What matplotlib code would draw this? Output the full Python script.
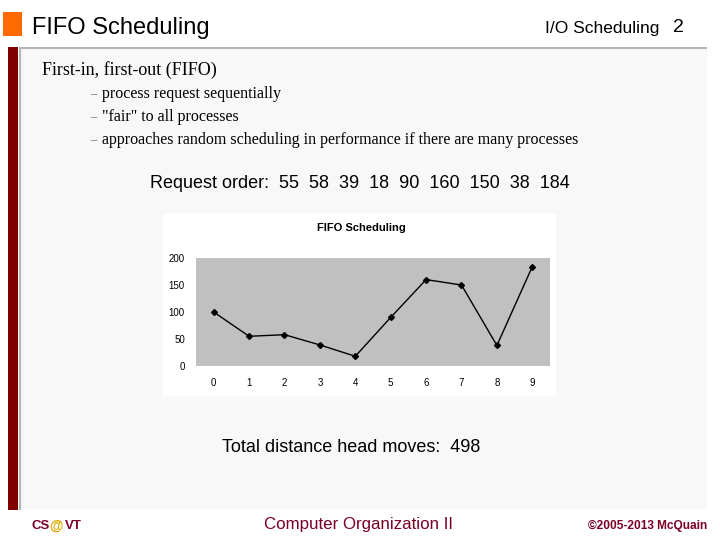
import matplotlib
matplotlib.use("Agg")
import matplotlib.pyplot as plt
from matplotlib.patches import Rectangle

# data
positions = [0, 1, 2, 3, 4, 5, 6, 7, 8, 9]
cylinders = [100, 55, 58, 39, 18, 90, 160, 150, 38, 184]
y_ticks = [0, 50, 100, 150, 200]
bullets = ["process request sequentially",
           '"fair" to all processes',
           "approaches random scheduling in performance if there are many processes"]
request_text = "Request order:  55  58  39  18  90  160  150  38  184"
total_text = "Total distance head moves:  498"

plt.rcParams['font.family'] = ['Liberation Sans', 'DejaVu Sans']

W, H = 720, 540
fig = plt.figure(figsize=(7.2, 5.4), dpi=100)
fig.patch.set_facecolor("white")


def fx(x):
    return x / W


def fy(y):
    return 1 - y / H


def box(x0, y0, x1, y1, **kw):
    fig.patches.append(Rectangle((fx(x0), fy(y1)), fx(x1 - x0), (y1 - y0) / H,
                                 transform=fig.transFigure, figure=fig, zorder=-5, **kw))


sans = "Liberation Sans"
serif = "Liberation Serif"
maroon = "#7a0026"

# slide frame
box(20, 48, 707, 510, facecolor="#f8f8f8", edgecolor="none")
box(20, 47, 707, 49, facecolor="#b4b4b4", edgecolor="none")
box(19, 47, 21, 510, facecolor="#b4b4b4", edgecolor="none")
box(8, 47, 18, 510, facecolor="#800000", edgecolor="none")
box(3, 12, 22, 36, facecolor="#ff6a00", edgecolor="none")

fig.text(fx(32), fy(28), "FIFO Scheduling", family=sans, fontsize=17, va="center", ha="left")
fig.text(fx(659), fy(28), "I/O Scheduling", family=sans, fontsize=12.5, va="center", ha="right")
fig.text(fx(684), fy(28), "2", family=sans, fontsize=14, va="center", ha="right")

fig.text(fx(42), fy(70), "First-in, first-out (FIFO)", family=serif, fontsize=13, va="center")
for i, b in enumerate(bullets):
    yy = 94 + i * 23
    fig.text(fx(90), fy(yy), "\u2013", family=serif, fontsize=9, va="center", color="#666666")
    fig.text(fx(102), fy(yy), b, family=serif, fontsize=11.5, va="center")

fig.text(fx(150), fy(183), request_text, family=sans, fontsize=13, va="center")
fig.text(fx(222), fy(447), total_text, family=sans, fontsize=13, va="center")

# embedded chart
box(163, 214, 556, 396, facecolor="white", edgecolor="none")
fig.text(fx(361), fy(228), "FIFO Scheduling", family=sans, fontsize=8, weight="bold",
         ha="center", va="center")

ax = fig.add_axes([fx(196), fy(366), fx(550 - 196), (366 - 258) / H])
ax.set_facecolor("#c0c0c0")
ax.plot(positions, cylinders, color="black", linewidth=1, marker="D", markersize=3)
ax.set_xlim(-0.5, 9.5)
ax.set_ylim(0, 200)
ax.set_xticks(positions)
ax.set_yticks(y_ticks)
for s in ax.spines.values():
    s.set_visible(False)
ax.tick_params(length=0, labelsize=7)
ax.tick_params(axis="x", pad=9)
ax.tick_params(axis="y", pad=8)

# footer
fig.text(fx(31), fy(526), "CS", family=sans, fontsize=9.5, weight="bold", color=maroon, va="center")
fig.text(fx(49), fy(526), "@", family=sans, fontsize=10, weight="bold", color="#e0a800", va="center")
fig.text(fx(65), fy(526), "VT", family=sans, fontsize=9.5, weight="bold", color=maroon, va="center")
fig.text(fx(358), fy(525), "Computer Organization II", family=sans, fontsize=12.2,
         color=maroon, ha="center", va="center")
fig.text(fx(707), fy(526), "\u00a92005-2013 McQuain", family=sans, fontsize=8.6, weight="bold",
         color=maroon, ha="right", va="center")

fig.savefig("out.png", dpi=100)
